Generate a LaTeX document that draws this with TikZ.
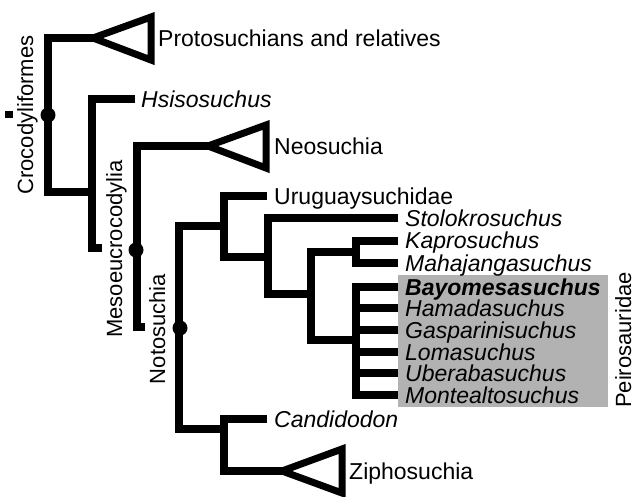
\documentclass[tikz,border=0pt]{standalone}
\usepackage{fontspec}
\setmainfont{Liberation Sans}
\begin{document}
\begin{tikzpicture}[x=1pt,y=-1pt,
  br/.style={line width=8pt,line join=miter,line cap=butt},
  tri/.style={line width=7pt,line join=miter},
  nodedot/.style={fill=black,circle,inner sep=0pt,minimum size=15pt},
  lab/.style={font=\fontsize{23}{27}\selectfont,inner sep=0pt,anchor=base west},
  rlab/.style={font=\fontsize{22}{26}\selectfont,inner sep=0pt,rotate=90,anchor=base}]
\useasboundingbox (0,0) rectangle (643,496);
% grey box behind Peirosauridae
\fill[black!30] (398,275) rectangle (608,407);
% coordinates of nodes
\coordinate (cA) at (48,115);
\coordinate (tipP) at (93,38);
\coordinate (tipN) at (208,146);
\coordinate (tipZ) at (282,471);
% triangles
\draw[tri] (tipP) -- (151,17) -- (151,60) -- cycle;
\draw[tri] (tipN) -- (266,125) -- (266,168) -- cycle;
\draw[tri] (tipZ) -- (342,449) -- (342,493) -- cycle;
% branches
\draw[br] (tipP) -- (48,38) -- (48,192) -- (92,192);
\draw[br] (135,99) -- (92,99) -- (92,248) -- (102,248);
\draw[br] (tipN) -- (137,146) -- (137,327) -- (145,327);
\draw[br] (224,226) -- (179,226) -- (179,429) -- (224,429);
\draw[br] (267,196) -- (224,196) -- (224,257) -- (268,257);
\draw[br] (398,218) -- (268,218) -- (268,294) -- (311,294);
\draw[br] (356,252) -- (311,252) -- (311,340) -- (356,340);
\draw[br] (398,241) -- (356,241) -- (356,263) -- (398,263);
\draw[br] (398,287) -- (356,287) -- (356,395) -- (398,395);
\foreach \yy in {308,330,352,373} \draw[br] (356,\yy) -- (398,\yy);
\draw[br] (267,419) -- (224,419) -- (224,471) -- (tipZ);
% node dots
\node[nodedot] (d1) at (cA) {};
\node[nodedot] (d2) at (136,250) {};
\node[nodedot] (d3) at (180,328) {};
% small square
\fill (5,111) rectangle (13,118);
% rotated clade labels
\node[rlab] (lCroc) at (33,115) {Crocodyliformes};
\node[rlab] (lMeso) at (122,249) {Mesoeucrocodylia};
\node[rlab] (lNoto) at (165,329) {Notosuchia};
\node[rlab] (lPeir) at (631,340) {Peirosauridae};
% terminal labels
\node[lab] (tProto) at (158,46) {Protosuchians and relatives};
\node[lab] (tHsis) at (141,107) {\itshape Hsisosuchus};
\node[lab] (tNeo) at (274,154) {Neosuchia};
\node[lab] (tUru) at (274,204) {Uruguaysuchidae};
\node[lab] (tStol) at (405,226) {\itshape Stolokrosuchus};
\node[lab] (tKap) at (405,248) {\itshape Kaprosuchus};
\node[lab] (tMah) at (405,271) {\itshape Mahajangasuchus};
\node[lab] (tBay) at (405,295) {\bfseries\itshape Bayomesasuchus};
\node[lab] (tHam) at (405,316) {\itshape Hamadasuchus};
\node[lab] (tGas) at (405,338) {\itshape Gasparinisuchus};
\node[lab] (tLom) at (405,360) {\itshape Lomasuchus};
\node[lab] (tUbe) at (405,381) {\itshape Uberabasuchus};
\node[lab] (tMon) at (405,403) {\itshape Montealtosuchus};
\node[lab] (tCan) at (274,427) {\itshape Candidodon};
\node[lab] (tZip) at (349,479) {Ziphosuchia};
\end{tikzpicture}
\end{document}
